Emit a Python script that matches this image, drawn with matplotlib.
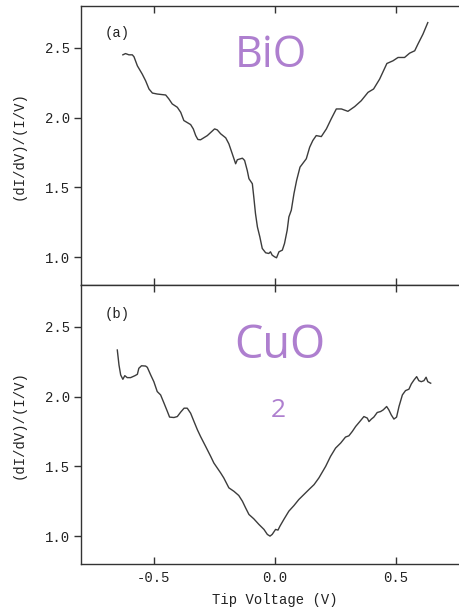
import matplotlib
matplotlib.use("Agg")
import matplotlib.pyplot as plt
from matplotlib.ticker import FixedLocator, FormatStrFormatter

plt.rcParams["axes.unicode_minus"] = False

# Normalised conductance spectra, panel (a): BiO layer
v_bio = [-0.627, -0.616, -0.602, -0.588, -0.581, -0.567, -0.547, -0.533, -0.519, -0.505,
         -0.485, -0.450, -0.437, -0.423, -0.402, -0.388, -0.375, -0.347, -0.336, -0.326,
         -0.317, -0.306, -0.278, -0.248, -0.237, -0.223, -0.202, -0.189, -0.175, -0.161,
         -0.154, -0.133, -0.124, -0.113, -0.106, -0.092, -0.086, -0.079, -0.071, -0.061,
         -0.051, -0.037, -0.024, -0.017, -0.010, 0.000, 0.008, 0.018, 0.032, 0.041,
         0.052, 0.059, 0.069, 0.080, 0.091, 0.105, 0.131, 0.145, 0.158, 0.172,
         0.193, 0.214, 0.234, 0.255, 0.276, 0.303, 0.331, 0.358, 0.386, 0.409,
         0.434, 0.464, 0.489, 0.510, 0.537, 0.558, 0.579, 0.592, 0.613, 0.633]
g_bio = [2.450, 2.459, 2.450, 2.450, 2.436, 2.371, 2.312, 2.264, 2.205, 2.176,
         2.169, 2.162, 2.134, 2.098, 2.074, 2.038, 1.979, 1.950, 1.919, 1.871,
         1.843, 1.841, 1.871, 1.919, 1.912, 1.884, 1.855, 1.812, 1.741, 1.669,
         1.698, 1.709, 1.693, 1.621, 1.562, 1.526, 1.431, 1.312, 1.216, 1.145,
         1.062, 1.031, 1.026, 1.038, 1.014, 1.002, 0.995, 1.038, 1.050, 1.098,
         1.193, 1.288, 1.336, 1.455, 1.550, 1.645, 1.705, 1.788, 1.836, 1.871,
         1.864, 1.919, 1.991, 2.062, 2.062, 2.045, 2.079, 2.121, 2.181, 2.205,
         2.276, 2.388, 2.407, 2.431, 2.431, 2.462, 2.479, 2.526, 2.598, 2.681]

# Panel (b): CuO2 layer
v_cuo = [-0.650, -0.643, -0.636, -0.627, -0.619, -0.609, -0.595, -0.577, -0.567, -0.561,
         -0.550, -0.533, -0.526, -0.512, -0.499, -0.485, -0.471, -0.457, -0.443, -0.434,
         -0.416, -0.402, -0.388, -0.374, -0.361, -0.347, -0.333, -0.319, -0.306, -0.285,
         -0.264, -0.251, -0.223, -0.210, -0.189, -0.168, -0.148, -0.133, -0.120, -0.106,
         -0.086, -0.065, -0.044, -0.030, -0.019, -0.010, 0.004, 0.014, 0.022, 0.038,
         0.059, 0.080, 0.100, 0.121, 0.142, 0.163, 0.183, 0.211, 0.231, 0.252,
         0.273, 0.293, 0.307, 0.321, 0.335, 0.352, 0.369, 0.383, 0.390, 0.400,
         0.410, 0.424, 0.438, 0.449, 0.463, 0.472, 0.482, 0.493, 0.504, 0.514,
         0.528, 0.541, 0.555, 0.565, 0.576, 0.587, 0.596, 0.606, 0.617, 0.626,
         0.633, 0.645]
g_cuo = [2.334, 2.226, 2.155, 2.124, 2.150, 2.136, 2.136, 2.150, 2.160, 2.203,
         2.221, 2.219, 2.210, 2.155, 2.107, 2.036, 2.012, 1.953, 1.893, 1.853,
         1.850, 1.857, 1.889, 1.917, 1.917, 1.881, 1.821, 1.762, 1.714, 1.643,
         1.571, 1.524, 1.453, 1.417, 1.346, 1.321, 1.291, 1.250, 1.203, 1.155,
         1.124, 1.084, 1.048, 1.012, 1.000, 1.012, 1.048, 1.043, 1.071, 1.119,
         1.179, 1.219, 1.262, 1.298, 1.334, 1.369, 1.417, 1.500, 1.571, 1.631,
         1.667, 1.710, 1.719, 1.750, 1.786, 1.821, 1.857, 1.846, 1.821, 1.839,
         1.853, 1.886, 1.893, 1.905, 1.929, 1.905, 1.869, 1.839, 1.853, 1.929,
         2.012, 2.043, 2.053, 2.091, 2.119, 2.143, 2.114, 2.107, 2.114, 2.139,
         2.107, 2.096]

x_ticks = [-0.5, 0.0, 0.5]
y_ticks = [1.0, 1.5, 2.0, 2.5]
panel_tags = ["(a)", "(b)"]
ylabel = "(dI/dV)/(I/V)"
xlabel = "Tip Voltage (V)"

W, H = 459, 607
fig = plt.figure(figsize=(W / 100, H / 100), dpi=100)
fig.patch.set_facecolor("white")

mono = "Liberation Mono"
ink = "#333333"
txt = "#222222"
purple = "#AE7FCF"

ax_w, ax_h = 387.2, 279.0
left, width = 81 / W, ax_w / W
ax_a = fig.add_axes([left, 1 - 285 / H, width, ax_h / H])
ax_b = fig.add_axes([left, 1 - 564 / H, width, ax_h / H])

# tag baselines measured from the top of each panel, in pixels
tag_drop = [31, 33]

for ax, v, g, tag, drop in [(ax_a, v_bio, g_bio, panel_tags[0], tag_drop[0]),
                            (ax_b, v_cuo, g_cuo, panel_tags[1], tag_drop[1])]:
    ax.plot(v, g, color="#3c3c3c", lw=1.0)
    ax.set_xlim(-0.8, 0.8)
    ax.set_ylim(0.8, 2.8)
    ax.xaxis.set_major_locator(FixedLocator(x_ticks))
    ax.yaxis.set_major_locator(FixedLocator(y_ticks))
    ax.xaxis.set_major_formatter(FormatStrFormatter("%.1f"))
    ax.yaxis.set_major_formatter(FormatStrFormatter("%.1f"))
    ax.tick_params(axis="x", direction="in", top=True, bottom=True, length=5,
                   width=1.0, color=ink, labelsize=10, labelcolor=txt, pad=5)
    ax.tick_params(axis="y", direction="out", left=True, right=False, length=5,
                   width=1.0, color=ink, labelsize=10, labelcolor=txt, pad=3)
    for lab in ax.get_xticklabels() + ax.get_yticklabels():
        lab.set_fontfamily(mono)
    for s in ax.spines.values():
        s.set_color(ink)
        s.set_linewidth(1.0)
    ax.set_ylabel(ylabel, fontfamily=mono, fontsize=10, color=txt)
    ax.yaxis.set_label_coords(-0.142, 0.5)
    ax.text((105 - 81) / ax_w, 1 - drop / ax_h, tag,
            transform=ax.transAxes, fontfamily=mono, fontsize=10, color=txt,
            ha="left", va="baseline")

ax_a.tick_params(axis="x", labelbottom=False)
ax_b.set_xlabel(xlabel, fontfamily=mono, fontsize=10, color=txt, labelpad=6)

# Layer names
fig.text(235 / W, 1 - 66.7 / H, "BiO", fontfamily="Open Sans", fontsize=31,
         color=purple, ha="left", va="baseline")
fig.text(234 / W, 1 - 358 / H, "CuO", fontfamily="Open Sans", fontsize=32.5,
         color=purple, ha="left", va="baseline")
fig.text(271 / W, 1 - 417.3 / H, "2", fontfamily="Open Sans", fontsize=19,
         color=purple, ha="left", va="baseline")

fig.savefig("out.png", dpi=100, facecolor="white")
